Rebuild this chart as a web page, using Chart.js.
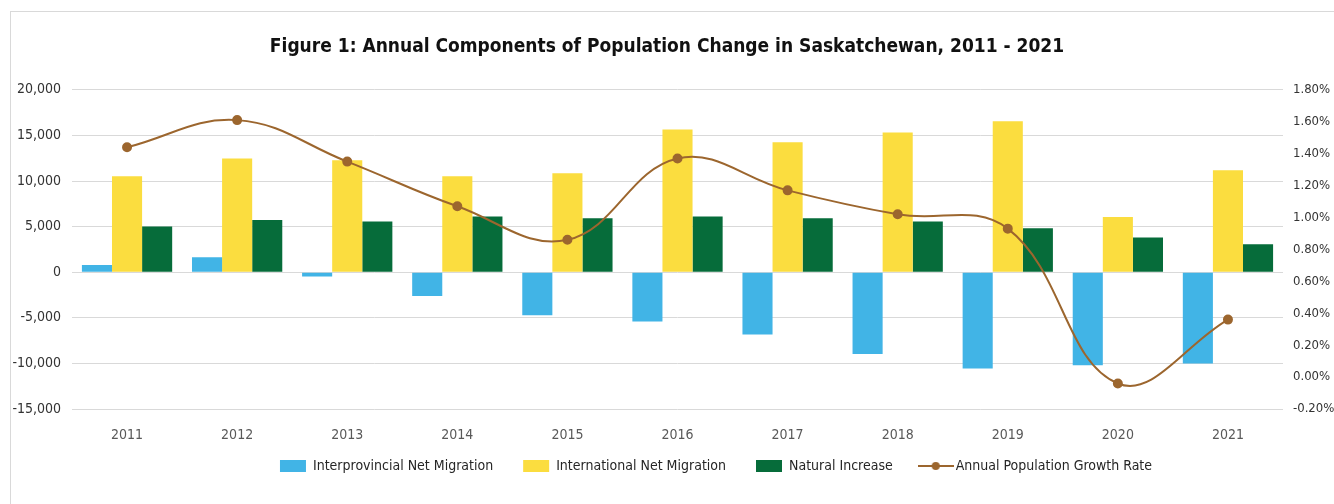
<!DOCTYPE html>
<html>
<head>
<meta charset="utf-8">
<script src="https://cdn.jsdelivr.net/npm/chart.js@4"></script>
<style>
    html, body { margin: 0; padding: 0; background: #fff; overflow: hidden; width: 1334px; height: 504px; }
    #frame { position: absolute; left: 10px; top: 11px; width: 1400px; height: 600px; border: 1px solid #d9d9d9; }
    #chart { position: absolute; left: 0; top: 0; }
</style>
</head>
<body>
<div id="frame"></div>
<canvas id="chart" width="1334" height="520"></canvas>
<script>
const years = ["2011", "2012", "2013", "2014", "2015", "2016", "2017", "2018", "2019", "2020", "2021"];
const interprovincial = [800, 1650, -470, -2600, -4720, -5410, -6830, -8980, -10560, -10200, -10010];
const international = [10530, 12470, 12280, 10530, 10860, 15650, 14250, 15320, 16560, 6060, 11180];
const naturalIncrease = [5010, 5730, 5560, 6100, 5920, 6100, 5920, 5560, 4820, 3800, 3070];
const growthRate = [1.44, 1.61, 1.35, 1.07, 0.86, 1.37, 1.17, 1.02, 0.93, -0.04, 0.36];

const fontFamily = "'Liberation Sans Narrow', 'DejaVu Sans Condensed', Roboto, sans-serif";
const lineColor = "#9c662e";

// small line + dot marker for the growth-rate legend entry
const lineMarker = document.createElement("canvas");
lineMarker.width = 36;
lineMarker.height = 12;
const mctx = lineMarker.getContext("2d");
mctx.strokeStyle = lineColor;
mctx.lineWidth = 2;
mctx.beginPath();
mctx.moveTo(0, 6);
mctx.lineTo(36, 6);
mctx.stroke();
mctx.fillStyle = lineColor;
mctx.beginPath();
mctx.arc(18, 6, 4, 0, Math.PI * 2);
mctx.fill();

// nudge the legend right and up, like the original
const shiftLegend = {
    id: "shiftLegend",
    afterLayout(chart) {
        const lg = chart.legend;
        lg.left += 49;
        lg.right += 49;
        lg.top -= 20;
        lg.bottom -= 20;
    },
};

const ctx = document.getElementById("chart").getContext("2d");
new Chart(ctx, {
    type: "bar",
    data: {
        labels: years,
        datasets: [
            {
                label: "Interprovincial Net Migration",
                data: interprovincial,
                backgroundColor: "#41b4e6",
                pointStyle: "rect",
                yAxisID: "y",
                order: 1,
            },
            {
                label: "International Net Migration",
                data: international,
                backgroundColor: "#fbdd3f",
                pointStyle: "rect",
                yAxisID: "y",
                order: 1,
            },
            {
                label: "Natural Increase",
                data: naturalIncrease,
                backgroundColor: "#066c3a",
                pointStyle: "rect",
                yAxisID: "y",
                order: 1,
            },
            {
                type: "line",
                label: "Annual Population Growth Rate",
                data: growthRate,
                borderColor: lineColor,
                backgroundColor: lineColor,
                borderWidth: 2,
                pointRadius: 4,
                pointStyle: "circle",
                tension: 0.4,
                yAxisID: "y1",
                order: 0,
            },
        ],
    },
    options: {
        responsive: false,
        animation: false,
        devicePixelRatio: 1,
        categoryPercentage: 0.82,
        barPercentage: 1.0,
        layout: { padding: { left: 0, right: 0, top: 0, bottom: 17 } },
        plugins: {
            title: {
                display: true,
                text: "Figure 1: Annual Components of Population Change in Saskatchewan, 2011 - 2021",
                color: "#111",
                font: { family: fontFamily, size: 19, weight: "bold" },
                padding: { top: 36, bottom: 31 },
            },
            legend: {
                position: "bottom",
                labels: {
                    color: "#262626",
                    font: { family: fontFamily, size: 14 },
                    padding: 30,
                    usePointStyle: true,
                    pointStyleWidth: 26,
                    boxHeight: 12,
                    sort: (a, b) => a.datasetIndex - b.datasetIndex,
                    generateLabels(chart) {
                        const items = Chart.defaults.plugins.legend.labels.generateLabels(chart);
                        items.forEach((item) => {
                            if (item.datasetIndex === 3) item.pointStyle = lineMarker;
                        });
                        return items;
                    },
                },
            },
            tooltip: { enabled: false },
        },
        scales: {
            x: {
                grid: { display: false, drawTicks: false },
                border: { display: false },
                ticks: { color: "#595959", font: { family: fontFamily, size: 14 }, padding: 18 },
                afterFit(axis) { axis.height = 40; },
            },
            y: {
                position: "left",
                min: -15000,
                max: 20000,
                ticks: {
                    stepSize: 5000,
                    color: "#333",
                    font: { family: fontFamily, size: 14 },
                    padding: 11,
                    callback: (v) => v.toLocaleString("en-US"),
                },
                grid: { color: "#d9d9d9", drawTicks: false },
                border: { display: false },
                afterFit(axis) { axis.width = 72; },
            },
            y1: {
                position: "right",
                min: -0.2,
                max: 1.8,
                ticks: {
                    stepSize: 0.2,
                    color: "#333",
                    font: { family: fontFamily, size: 13 },
                    padding: 10,
                    callback: (v) => v.toFixed(2) + "%",
                },
                grid: { display: false, drawTicks: false },
                border: { display: false },
                afterFit(axis) { axis.width = 51; },
            },
        },
    },
    plugins: [shiftLegend],
});
</script>
</body>
</html>
